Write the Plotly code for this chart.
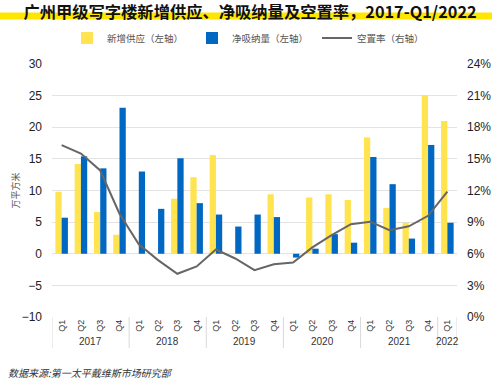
import plotly.graph_objects as go

years = ["2017"]*4 + ["2018"]*4 + ["2019"]*4 + ["2020"]*4 + ["2021"]*4 + ["2022"]
quarters = ["Q1", "Q2", "Q3", "Q4"]*5 + ["Q1"]

supply = [9.8, 14.2, 6.6, 3.0, 0, 0, 8.7, 12.1, 15.6, 0, 0, 9.4,
          0, 8.9, 9.4, 8.5, 18.4, 7.25, 4.9, 25.1, 21.0]
absorption = [5.7, 15.4, 13.5, 23.1, 13.0, 7.1, 15.1, 8.0, 6.2, 4.3, 6.2, 5.8,
              -0.6, 0.8, 3.1, 1.75, 15.3, 11.0, 2.4, 17.2, 4.9]
vacancy = [0.163, 0.155, 0.139, 0.098, 0.069, 0.054, 0.041, 0.048, 0.064, 0.0555, 0.0445, 0.050,
           0.0517, 0.066, 0.0777, 0.088, 0.0904, 0.0824, 0.086, 0.096, 0.119]

YELLOW = "#FFE34F"
BLUE = "#0067C2"
GRAY = "#666666"
FONT = "Noto Sans CJK SC"
NUMFONT = "Liberation Sans"

cats = [f"{y} {q}" for y, q in zip(years, quarters)]

fig = go.Figure()
fig.add_trace(go.Bar(x=cats, y=supply, name="新增供应（左轴）", marker=dict(color=YELLOW, line=dict(width=0))))
fig.add_trace(go.Bar(x=cats, y=absorption, name="净吸纳量（左轴）", marker=dict(color=BLUE, line=dict(width=0))))
fig.add_trace(go.Scatter(x=cats, y=vacancy, name="空置率（右轴）", mode="lines",
                         line=dict(color=GRAY, width=2), yaxis="y2"))

W, H = 500, 382
L, R, T, B = 52, 43, 64, 65
ph = H - T - B
pw = W - L - R

def px2paper_y(py):
    return (H - B - py) / ph

def px2paper_x(px):
    return (px - L) / pw

# title highlight band
fig.add_shape(type="rect", xref="paper", yref="paper",
              x0=px2paper_x(0), x1=px2paper_x(492),
              y0=px2paper_y(19.5), y1=px2paper_y(12.5),
              fillcolor="#FFE600", line=dict(width=0), layer="above")

# year groups: labels and dividers
unique_years = []
for y in years:
    if y not in unique_years:
        unique_years.append(y)
for yr in unique_years:
    idx = [i for i, y in enumerate(years) if y == yr]
    mid = (idx[0] + idx[-1]) / 2
    fig.add_annotation(text=yr, x=mid, xref="x", y=px2paper_y(341), yref="paper",
                       showarrow=False, xanchor="center", yanchor="middle",
                       font=dict(family=NUMFONT, size=10, color="#333333"))
    fig.add_shape(type="line", xref="x", yref="paper", x0=idx[0] - 0.5, x1=idx[0] - 0.5,
                  y0=0, y1=px2paper_y(348), line=dict(color="#D9D9D9", width=1))
fig.add_shape(type="line", xref="x", yref="paper", x0=len(years) - 0.5, x1=len(years) - 0.5,
              y0=0, y1=px2paper_y(348), line=dict(color="#D9D9D9", width=1))

fig.update_layout(
    width=W, height=H,
    margin=dict(l=L, r=R, t=T, b=B, autoexpand=False),
    paper_bgcolor="white", plot_bgcolor="white",
    font=dict(family=FONT, color="#222222"),
    title=dict(text="<b>广州甲级写字楼新增供应、净吸纳量及空置率，2017-Q1/2022</b>",
               x=0.5, xanchor="center", y=1 - 12.5/H, yanchor="middle",
               font=dict(family=FONT, size=16.3, color="#111111")),
    bargap=0.35, bargroupgap=0,
    showlegend=True,
    legend=dict(orientation="h", x=0.5, xanchor="center", y=px2paper_y(38), yanchor="middle",
                font=dict(family=FONT, size=9.5, color="#555555"),
                entrywidth=80, entrywidthmode="pixels", bgcolor="rgba(0,0,0,0)"),
    xaxis=dict(type="category", range=[-0.5, len(cats) - 0.5], tickvals=cats, ticktext=quarters,
               tickangle=-90, showgrid=False, showline=False, ticks="", automargin=False,
               tickfont=dict(family=NUMFONT, size=9, color="#333333")),
    yaxis=dict(range=[-10, 30], dtick=5, showgrid=True, gridcolor="#E3E3E3", gridwidth=1,
               zeroline=False, showline=False, ticklabelstandoff=9, automargin=False,
               tickfont=dict(family=NUMFONT, size=12, color="#222222"),
               title=dict(text="万平方米", font=dict(family=FONT, size=9, color="#555555"), standoff=0)),
    yaxis2=dict(range=[0, 0.24], dtick=0.03, tickformat=".0%", overlaying="y", side="right",
                showgrid=False, zeroline=False, showline=False, ticklabelstandoff=9, automargin=False,
                tickfont=dict(family=NUMFONT, size=12, color="#222222")),
)

fig.add_annotation(text="<i>数据来源:第一太平戴维斯市场研究部</i>", xref="paper", yref="paper",
                   x=px2paper_x(6), y=px2paper_y(372), xanchor="left", yanchor="middle",
                   showarrow=False, font=dict(family=FONT, size=10, color="#333333"))

fig.write_html("out.html", config={"displayModeBar": False},
               post_script="document.body.style.margin='0';document.body.style.padding='0';")
